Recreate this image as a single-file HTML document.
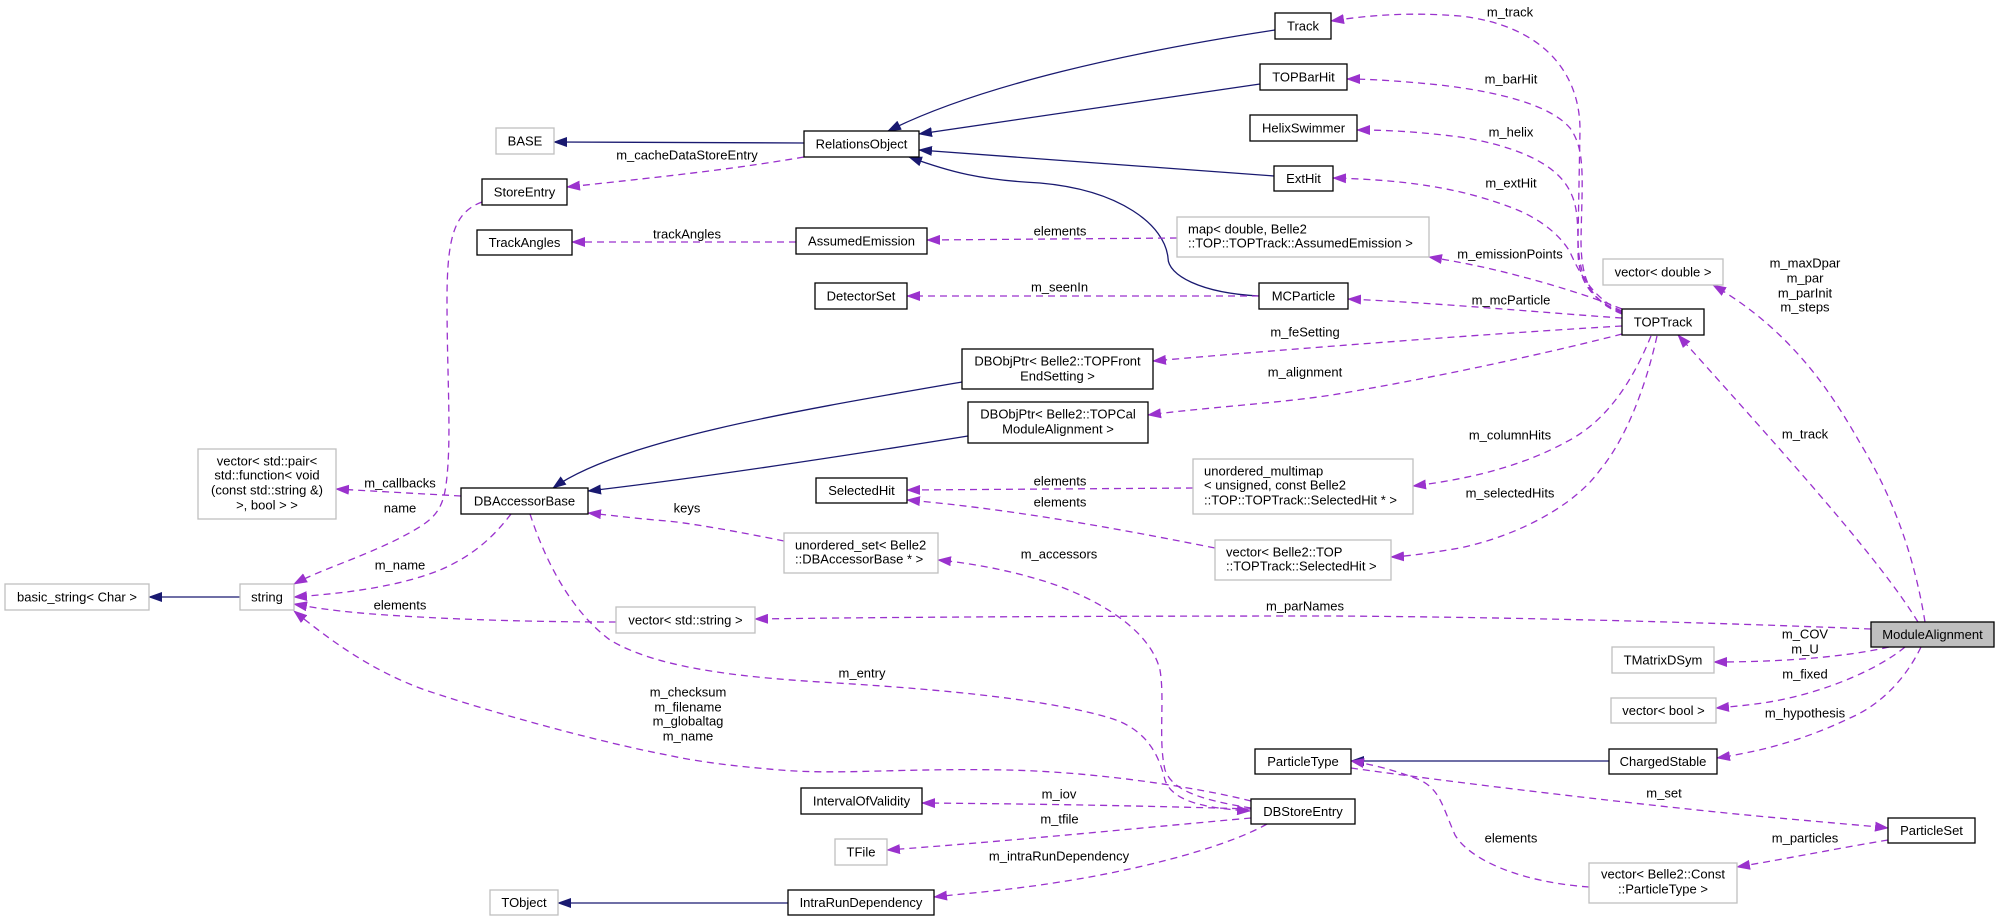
<!DOCTYPE html>
<html><head><meta charset="utf-8"><style>
html,body{margin:0;padding:0;background:#fff;}
svg{display:block;}
text{font-family:"Liberation Sans",Arial,sans-serif;font-size:13px;fill:#000;}
.nb{fill:#fff;stroke:#000;stroke-width:1.3;}
.ng{fill:#fff;stroke:#bfbfbf;stroke-width:1.3;}
.inh{fill:none;stroke:#191970;stroke-width:1.3;}
.use{fill:none;stroke:#9a32cd;stroke-width:1.3;stroke-dasharray:7,5;}
</style></head><body>
<svg width="1999" height="921" viewBox="0 0 1999 921" xmlns="http://www.w3.org/2000/svg">
<defs>
<marker id="ab" markerUnits="userSpaceOnUse" markerWidth="14" markerHeight="10" viewBox="0 0 14 10" refX="13" refY="5" orient="auto"><path d="M0,0 L14,5 L0,10 z" fill="#191970"/></marker>
<marker id="ap" markerUnits="userSpaceOnUse" markerWidth="14" markerHeight="10" viewBox="0 0 14 10" refX="13" refY="5" orient="auto"><path d="M0,0 L14,5 L0,10 z" fill="#9a32cd"/></marker>
</defs>
<rect width="1999" height="921" fill="#fff"/>

<!-- inheritance edges -->
<path class="inh" marker-end="url(#ab)" d="M804,143 L554,142"/>
<path class="inh" marker-end="url(#ab)" d="M1275,30 C1130,52 980,85 888,131"/>
<path class="inh" marker-end="url(#ab)" d="M1260,84 L919,134"/>
<path class="inh" marker-end="url(#ab)" d="M1274,176 L919,150"/>
<path class="inh" marker-end="url(#ab)" d="M1259,296 C1200,293 1168,275 1168,258 C1165,225 1120,190 1040,183 C980,180 950,172 909,157"/>
<path class="inh" marker-end="url(#ab)" d="M962,382 C800,410 620,440 553,488"/>
<path class="inh" marker-end="url(#ab)" d="M968,436 C850,455 700,478 588,491"/>
<path class="inh" marker-end="url(#ab)" d="M1609,761 L1351,761"/>
<path class="inh" marker-end="url(#ab)" d="M788,903 L558,903"/>
<path class="inh" marker-end="url(#ab)" d="M240,597 L149,597"/>

<!-- usage edges from TOPTrack -->
<path class="use" marker-end="url(#ap)" d="M1622,313 C1595,302 1579,285 1578,240 L1580,130 C1580,70 1540,25 1460,16 C1410,12 1370,15 1331,21"/>
<path class="use" marker-end="url(#ap)" d="M1622,314 C1592,302 1581,282 1581,240 C1582,180 1586,150 1570,128 C1550,105 1500,92 1440,85 C1400,81 1370,79 1347,79"/>
<path class="use" marker-end="url(#ap)" d="M1622,312 C1590,300 1578,280 1578,250 C1578,215 1577,200 1565,183 C1548,160 1510,145 1460,137 C1420,132 1390,130 1357,130"/>
<path class="use" marker-end="url(#ap)" d="M1622,311 C1595,300 1580,275 1570,252 C1560,235 1540,218 1510,207 C1470,192 1420,180 1333,178"/>
<path class="use" marker-end="url(#ap)" d="M1622,309 C1590,296 1550,284 1523,277 C1490,268 1460,262 1429,257"/>
<path class="use" marker-end="url(#ap)" d="M1622,318 C1560,314 1440,303 1348,299"/>
<path class="use" marker-end="url(#ap)" d="M1622,326 C1500,333 1300,348 1153,361"/>
<path class="use" marker-end="url(#ap)" d="M1622,334 C1560,350 1450,375 1332,395 C1280,403 1200,408 1148,415"/>
<path class="use" marker-end="url(#ap)" d="M1651,336 C1635,375 1610,420 1566,442 C1530,462 1480,478 1413,486"/>
<path class="use" marker-end="url(#ap)" d="M1657,336 C1645,390 1625,440 1600,470 C1575,505 1520,535 1460,548 C1430,553 1410,556 1391,557"/>

<!-- usage edges from ModuleAlignment -->
<path class="use" marker-end="url(#ap)" d="M1918,622 C1880,560 1790,460 1678,335"/>
<path class="use" marker-end="url(#ap)" d="M1925,622 C1915,560 1895,500 1860,443 C1830,390 1790,330 1713,285"/>
<path class="use" marker-end="url(#ap)" d="M1871,629 C1700,622 1500,617 1334,616 C1100,616 900,617 755,619"/>
<path class="use" marker-end="url(#ap)" d="M1889,647 C1850,656 1790,662 1714,662"/>
<path class="use" marker-end="url(#ap)" d="M1905,647 C1880,668 1830,690 1780,700 C1760,704 1740,706 1716,708"/>
<path class="use" marker-end="url(#ap)" d="M1921,647 C1905,680 1880,705 1850,718 C1810,737 1770,750 1717,758"/>

<!-- other usage edges -->
<path class="use" marker-end="url(#ap)" d="M804,157 C740,168 680,175 567,187"/>
<path class="use" marker-end="url(#ap)" d="M482,202 C455,212 447,235 447,300 C447,380 452,440 446,485 C442,515 430,522 400,538 C360,558 320,570 294,584"/>
<path class="use" marker-end="url(#ap)" d="M796,242 L572,242"/>
<path class="use" marker-end="url(#ap)" d="M1177,238 L927,240"/>
<path class="use" marker-end="url(#ap)" d="M1259,296 L907,296"/>
<path class="use" marker-end="url(#ap)" d="M461,496 L336,489"/>
<path class="use" marker-end="url(#ap)" d="M511,514 C495,535 475,555 440,570 C400,586 350,593 294,597"/>
<path class="use" marker-end="url(#ap)" d="M616,622 C500,622 400,617 350,612 C320,609 305,606 294,604"/>
<path class="use" marker-end="url(#ap)" d="M1251,801 C1200,788 1100,772 1007,770 C900,768 840,775 780,770 C720,765 690,760 667,755 C600,742 500,715 425,690 C370,670 330,640 294,611"/>
<path class="use" marker-end="url(#ap)" d="M784,541 C740,532 690,523 667,521 C630,518 610,515 588,513"/>
<path class="use" marker-end="url(#ap)" d="M530,514 C545,560 570,610 610,640 C660,670 750,678 837,683 C950,690 1050,700 1110,718 C1150,730 1160,760 1165,780 C1172,800 1200,808 1250,811"/>
<path class="use" marker-end="url(#ap)" d="M1251,808 C1200,800 1172,790 1165,770 C1158,740 1165,700 1160,670 C1150,630 1100,600 1050,583 C1010,570 970,563 938,560"/>
<path class="use" marker-end="url(#ap)" d="M1251,809 C1150,806 1050,804 922,803"/>
<path class="use" marker-end="url(#ap)" d="M1251,818 C1150,827 1000,842 887,850"/>
<path class="use" marker-end="url(#ap)" d="M1267,824 C1230,845 1150,868 1060,882 C1010,890 970,893 934,897"/>
<path class="use" marker-end="url(#ap)" d="M1351,768 C1450,782 1650,806 1757,816 C1820,822 1860,825 1888,828"/>
<path class="use" marker-end="url(#ap)" d="M1589,887 C1520,882 1470,860 1455,835 C1442,805 1440,790 1420,780 C1395,770 1370,764 1351,761"/>
<path class="use" marker-end="url(#ap)" d="M1888,840 C1840,848 1790,858 1737,867"/>
<path class="use" marker-end="url(#ap)" d="M1193,488 L907,490"/>
<path class="use" marker-end="url(#ap)" d="M1215,548 C1100,525 1000,508 907,500"/>

<!-- nodes -->
<rect class="nb" x="1275" y="13" width="56" height="26"/><text x="1303" y="30.5" text-anchor="middle">Track</text>
<rect class="nb" x="1260" y="64" width="87" height="26"/><text x="1303.5" y="81.5" text-anchor="middle">TOPBarHit</text>
<rect class="nb" x="1250" y="115" width="107" height="26"/><text x="1303.5" y="132.5" text-anchor="middle">HelixSwimmer</text>
<rect class="nb" x="1274" y="166" width="59" height="25"/><text x="1303.5" y="183" text-anchor="middle">ExtHit</text>
<rect class="nb" x="804" y="131" width="115" height="26"/><text x="861.5" y="148.5" text-anchor="middle">RelationsObject</text>
<rect class="ng" x="496" y="128" width="58" height="26"/><text x="525" y="145.5" text-anchor="middle">BASE</text>
<rect class="nb" x="482" y="179" width="85" height="26"/><text x="524.5" y="196.5" text-anchor="middle">StoreEntry</text>
<rect class="nb" x="477" y="230" width="95" height="25"/><text x="524.5" y="247" text-anchor="middle">TrackAngles</text>
<rect class="nb" x="796" y="228" width="131" height="26"/><text x="861.5" y="245.5" text-anchor="middle">AssumedEmission</text>
<rect class="ng" x="1177" y="217" width="252" height="40"/><text x="1188" y="233.5">map&lt; double, Belle2</text><text x="1188" y="247.5">::TOP::TOPTrack::AssumedEmission &gt;</text>
<rect class="nb" x="815" y="283" width="92" height="26"/><text x="861" y="300.5" text-anchor="middle">DetectorSet</text>
<rect class="nb" x="1259" y="283" width="89" height="26"/><text x="1303.5" y="300.5" text-anchor="middle">MCParticle</text>
<rect class="nb" x="1622" y="309" width="82" height="26"/><text x="1663" y="326.5" text-anchor="middle">TOPTrack</text>
<rect class="ng" x="1603" y="259" width="120" height="26"/><text x="1663" y="276.5" text-anchor="middle">vector&lt; double &gt;</text>
<rect class="nb" x="962" y="349" width="191" height="40"/><text x="1057.5" y="365.5" text-anchor="middle">DBObjPtr&lt; Belle2::TOPFront</text><text x="1057.5" y="380.5" text-anchor="middle">EndSetting &gt;</text>
<rect class="nb" x="968" y="402" width="180" height="41"/><text x="1058" y="418.5" text-anchor="middle">DBObjPtr&lt; Belle2::TOPCal</text><text x="1058" y="433.5" text-anchor="middle">ModuleAlignment &gt;</text>
<rect class="ng" x="198" y="449" width="138" height="70"/><text x="267" y="465.5" text-anchor="middle">vector&lt; std::pair&lt;</text><text x="267" y="479.5" text-anchor="middle">std::function&lt; void</text><text x="267" y="494.5" text-anchor="middle">(const std::string &amp;)</text><text x="267" y="509.5" text-anchor="middle">&gt;, bool &gt; &gt;</text>
<rect class="nb" x="461" y="488" width="127" height="26"/><text x="524.5" y="505.5" text-anchor="middle">DBAccessorBase</text>
<rect class="ng" x="5" y="584" width="144" height="26"/><text x="77" y="601.5" text-anchor="middle">basic_string&lt; Char &gt;</text>
<rect class="ng" x="240" y="584" width="54" height="26"/><text x="267" y="601.5" text-anchor="middle">string</text>
<rect class="nb" x="816" y="478" width="91" height="25"/><text x="861.5" y="495" text-anchor="middle">SelectedHit</text>
<rect class="ng" x="784" y="533" width="154" height="40"/><text x="795" y="549.5">unordered_set&lt; Belle2</text><text x="795" y="563.5">::DBAccessorBase * &gt;</text>
<rect class="ng" x="1193" y="459" width="220" height="55"/><text x="1204" y="475.5">unordered_multimap</text><text x="1204" y="489.5">&lt; unsigned, const Belle2</text><text x="1204" y="504.5">::TOP::TOPTrack::SelectedHit * &gt;</text>
<rect class="ng" x="1215" y="540" width="176" height="40"/><text x="1226" y="556.5">vector&lt; Belle2::TOP</text><text x="1226" y="570.5">::TOPTrack::SelectedHit &gt;</text>
<rect class="ng" x="616" y="607" width="139" height="26"/><text x="685.5" y="624.5" text-anchor="middle">vector&lt; std::string &gt;</text>
<rect x="1871" y="622" width="123" height="25" fill="#bfbfbf" stroke="#000" stroke-width="1.3"/><text x="1932.5" y="639" text-anchor="middle">ModuleAlignment</text>
<rect class="ng" x="1612" y="647" width="102" height="26"/><text x="1663" y="664.5" text-anchor="middle">TMatrixDSym</text>
<rect class="ng" x="1611" y="698" width="105" height="25"/><text x="1663.5" y="715" text-anchor="middle">vector&lt; bool &gt;</text>
<rect class="nb" x="1609" y="749" width="108" height="25"/><text x="1663" y="766" text-anchor="middle">ChargedStable</text>
<rect class="nb" x="1255" y="749" width="96" height="25"/><text x="1303" y="766" text-anchor="middle">ParticleType</text>
<rect class="nb" x="1888" y="818" width="87" height="25"/><text x="1931.5" y="835" text-anchor="middle">ParticleSet</text>
<rect class="ng" x="1589" y="863" width="148" height="40"/><text x="1663" y="878.5" text-anchor="middle">vector&lt; Belle2::Const</text><text x="1663" y="893.5" text-anchor="middle">::ParticleType &gt;</text>
<rect class="nb" x="801" y="788" width="121" height="26"/><text x="861.5" y="805.5" text-anchor="middle">IntervalOfValidity</text>
<rect class="nb" x="1251" y="799" width="104" height="25"/><text x="1303" y="816" text-anchor="middle">DBStoreEntry</text>
<rect class="ng" x="835" y="839" width="52" height="26"/><text x="861" y="856.5" text-anchor="middle">TFile</text>
<rect class="nb" x="788" y="890" width="146" height="25"/><text x="861" y="907" text-anchor="middle">IntraRunDependency</text>
<rect class="ng" x="490" y="890" width="68" height="25"/><text x="524" y="907" text-anchor="middle">TObject</text>

<!-- edge labels -->
<g text-anchor="middle">
<text x="1510" y="16.5">m_track</text>
<text x="1511" y="83.5">m_barHit</text>
<text x="1511" y="136.5">m_helix</text>
<text x="1511" y="187.5">m_extHit</text>
<text x="1510" y="258.5">m_emissionPoints</text>
<text x="1511" y="304.5">m_mcParticle</text>
<text x="1305" y="336.5">m_feSetting</text>
<text x="1305" y="376.5">m_alignment</text>
<text x="1805" y="267.5">m_maxDpar</text>
<text x="1805" y="282.5">m_par</text>
<text x="1805" y="297.5">m_parInit</text>
<text x="1805" y="311.5">m_steps</text>
<text x="1510" y="439.5">m_columnHits</text>
<text x="1805" y="438.5">m_track</text>
<text x="1510" y="497.5">m_selectedHits</text>
<text x="1305" y="610.5">m_parNames</text>
<text x="1805" y="638.5">m_COV</text>
<text x="1805" y="653.5">m_U</text>
<text x="1805" y="678.5">m_fixed</text>
<text x="1805" y="717.5">m_hypothesis</text>
<text x="1664" y="797.5">m_set</text>
<text x="1511" y="842.5">elements</text>
<text x="1805" y="842.5">m_particles</text>
<text x="687" y="159.5">m_cacheDataStoreEntry</text>
<text x="687" y="238.5">trackAngles</text>
<text x="1060" y="235.5">elements</text>
<text x="1059.5" y="291.5">m_seenIn</text>
<text x="400" y="487.5">m_callbacks</text>
<text x="400" y="512.5">name</text>
<text x="687" y="512.5">keys</text>
<text x="1060" y="485.5">elements</text>
<text x="1060" y="506.5">elements</text>
<text x="1059" y="558.5">m_accessors</text>
<text x="400" y="569.5">m_name</text>
<text x="400" y="609.5">elements</text>
<text x="862" y="677.5">m_entry</text>
<text x="688" y="696.5">m_checksum</text>
<text x="688" y="711.5">m_filename</text>
<text x="688" y="725.5">m_globaltag</text>
<text x="688" y="740.5">m_name</text>
<text x="1059" y="798.5">m_iov</text>
<text x="1059.5" y="823.5">m_tfile</text>
<text x="1059" y="860.5">m_intraRunDependency</text>
</g>
</svg>
</body></html>
